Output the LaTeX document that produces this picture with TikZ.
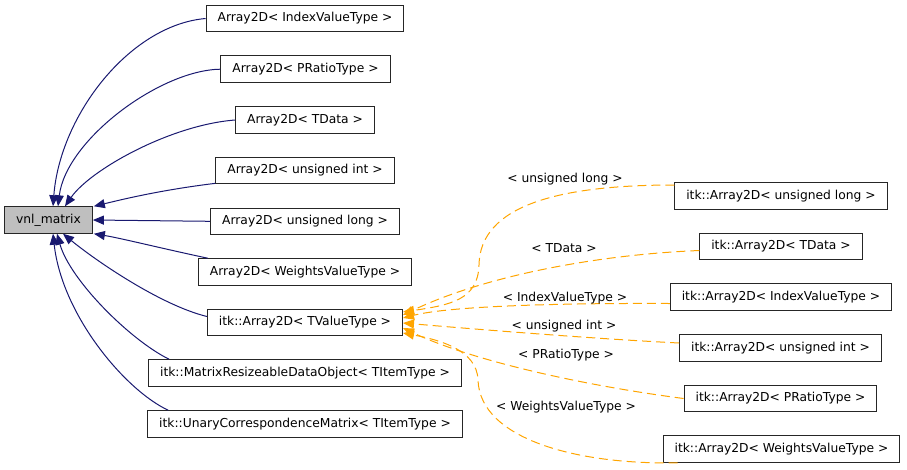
\documentclass[tikz,border=0pt]{standalone}
\usepackage{fontspec}
\setmainfont{DejaVu Sans}
\usetikzlibrary{arrows.meta,calc}
\definecolor{edgeblue}{RGB}{25,25,112}
\definecolor{tmplorange}{RGB}{255,165,0}
\definecolor{basegray}{RGB}{191,191,191}
\tikzset{
  cls/.style={draw=black!85, line width=1pt, font=\fontsize{12.3}{14}\selectfont,
    inner xsep=11.5pt, inner ysep=0pt, minimum height=26.5pt},
  lbl/.style={font=\fontsize{12.3}{14}\selectfont, inner sep=0pt},
  inh/.style={edgeblue, line width=1pt, -{Triangle[length=11pt,width=9pt]}},
  tmpl/.style={tmplorange, line width=1pt, dash pattern=on 9pt off 5pt,
    -{Triangle[length=11pt,width=9pt]}}
}

\begin{document}
\begin{tikzpicture}[x=1pt,y=-1pt]
    \useasboundingbox (0,0) rectangle (907,469);
    % base class
    \node[cls, fill=basegray] (vnl) at (48.5,220) {vnl\_matrix};
    % derived classes
    \node[cls] (a2idx) at (305,18.5)  {Array2D< IndexValueType >};
    \node[cls] (a2pr)  at (305.5,69.2) {Array2D< PRatioType >};
    \node[cls] (a2td)  at (305,120)   {Array2D< TData >};
    \node[cls] (a2ui)  at (305,170.6) {Array2D< unsigned int >};
    \node[cls] (a2ul)  at (305,221.3) {Array2D< unsigned long >};
    \node[cls] (a2wv)  at (305,272)   {Array2D< WeightsValueType >};
    \node[cls] (itka2) at (305,322.5) {itk::Array2D< TValueType >};
    \node[cls] (mrdo)  at (305,373)   {itk::MatrixResizeableDataObject< TItemType >};
    \node[cls] (ucm)   at (305,424)   {itk::UnaryCorrespondenceMatrix< TItemType >};
    % template instances
    \node[cls] (iul)  at (781,196)   {itk::Array2D< unsigned long >};
    \node[cls] (itd)  at (781,246.5) {itk::Array2D< TData >};
    \node[cls] (iidx) at (781,297)   {itk::Array2D< IndexValueType >};
    \node[cls] (iui)  at (780.5,348) {itk::Array2D< unsigned int >};
    \node[cls] (ipr)  at (780.5,398.5) {itk::Array2D< PRatioType >};
    \node[cls] (iwv)  at (781.5,449) {itk::Array2D< WeightsValueType >};
    % inheritance
    \draw[inh] (a2idx.west) .. controls (130,25) and (60,115) .. ($(vnl.north)+(4.5,0)$);
    \draw[inh] (a2pr.west) .. controls (160,70) and (66,140) .. ($(vnl.north)+(9.5,0)$);
    \draw[inh] (a2td.west) .. controls (170,125) and (90,170) .. ($(vnl.north)+(16.5,0)$);
    \draw[inh] ($(a2ui.south west)+(0,-1)$) .. controls (160,190) and (120,200) .. ($(vnl.north east)+(1,0)$);
    \draw[inh] (a2ul.west) -- (vnl.east);
    \draw[inh] ($(a2wv.north west)+(10,0)$) .. controls (160,248) and (120,238) .. ($(vnl.south east)+(1,0)$);
    \draw[inh] ($(itka2.west)+(0,-6)$) .. controls (160,305) and (95,260) .. ($(vnl.south)+(14.5,0)$);
    \draw[inh] ($(mrdo.north west)+(21,0)$) .. controls (130,340) and (70,280) .. ($(vnl.south)+(8.5,0)$);
    \draw[inh] ($(ucm.north west)+(21,0)$) .. controls (125,390) and (62,315) .. ($(vnl.south)+(4.5,0)$);
    % template instantiation
    \draw[tmpl] ($(iul.west)+(0,-11)$) .. controls (560,185) and (480,205) .. (479,265)
        .. controls (478,300) and (450,305) .. ($(itka2.east)+(0,-10.5)$);
    \draw[tmpl] ($(itd.west)+(0,4)$) .. controls (590,255) and (480,278) .. ($(itka2.east)+(0,-7.5)$);
    \draw[tmpl] ($(iidx.west)+(0,6.5)$) .. controls (560,303) and (450,306) .. ($(itka2.east)+(0,-4.5)$);
    \draw[tmpl] ($(iui.west)+(0,-5)$) .. controls (580,338) and (450,327) .. ($(itka2.east)+(0,0.5)$);
    \draw[tmpl] (ipr.west) .. controls (580,385) and (470,360) .. ($(itka2.east)+(0,5.5)$);
    \draw[tmpl] ($(iwv.south west)+(15,0)$) .. controls (580,465) and (480,440) .. (478,380)
        .. controls (477,350) and (440,340) .. ($(itka2.east)+(0,10.5)$);
    % edge labels
    \node[lbl] (lul)  at (565,179) {< unsigned long >};
    \node[lbl] (ltd)  at (564,248) {< TData >};
    \node[lbl] (lidx) at (565,298) {< IndexValueType >};
    \node[lbl] (lui)  at (564,326) {< unsigned int >};
    \node[lbl] (lpr)  at (566,355) {< PRatioType >};
    \node[lbl] (lwv)  at (566,407) {< WeightsValueType >};
  \end{tikzpicture}
\end{document}
